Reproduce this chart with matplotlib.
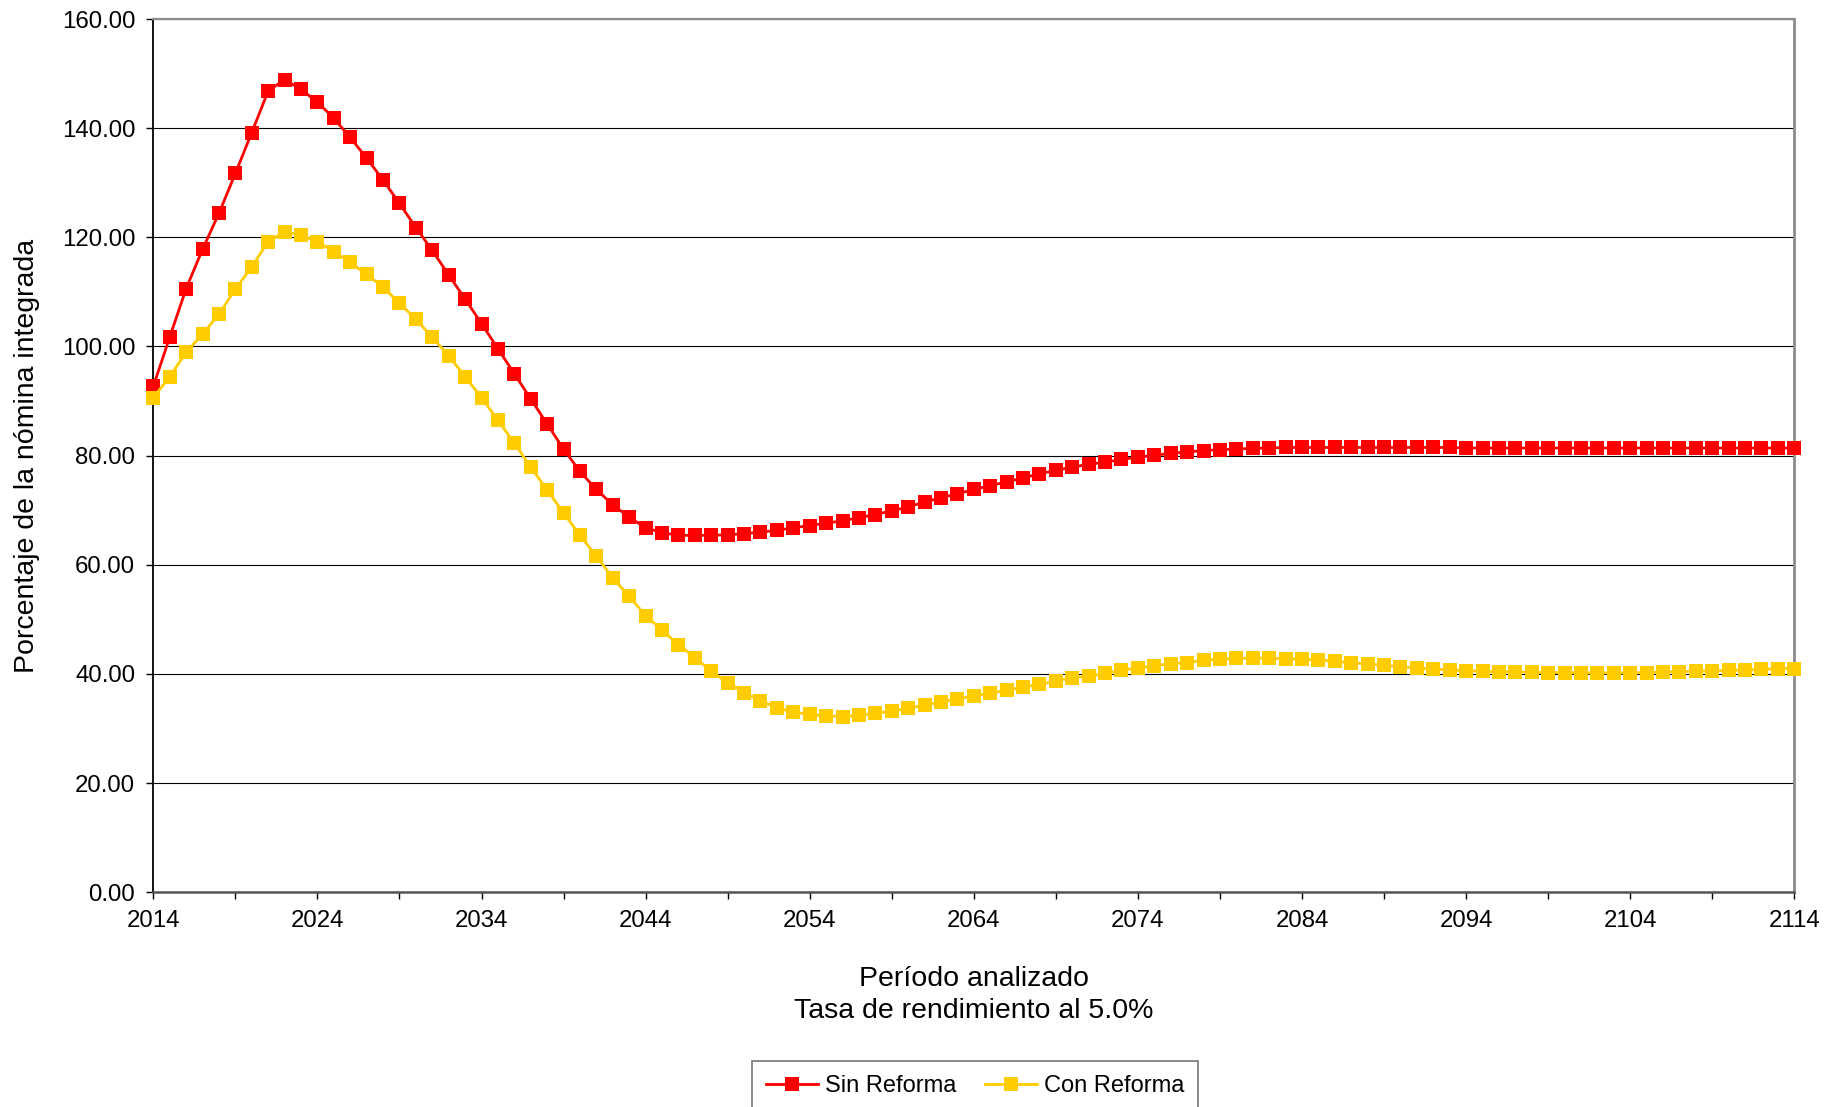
import matplotlib
matplotlib.use('Agg')
import matplotlib.pyplot as plt
from matplotlib.ticker import FormatStrFormatter, MultipleLocator

plt.rcParams['font.family'] = ['Liberation Sans', 'DejaVu Sans']

################################################################################
# data
################################################################################

years = list(range(2014, 2115))
year_ticks = list(range(2014, 2115, 10))
year_minor = list(range(2019, 2115, 10))

sin_reforma = [
    92.7, 101.7, 110.6, 117.8, 124.4, 131.7, 139.2, 146.8, 148.9, 147.1,   # 2014
    144.8, 141.8, 138.3, 134.5, 130.5, 126.2, 121.8, 117.6, 113.1, 108.7,  # 2024
    104.2, 99.6, 95.0, 90.4, 85.8, 81.2, 77.1, 73.8, 71.0, 68.7,           # 2034
    66.8, 65.9, 65.4, 65.4, 65.4, 65.5, 65.7, 66.0, 66.3, 66.8,            # 2044
    67.2, 67.6, 68.1, 68.6, 69.2, 69.9, 70.6, 71.5, 72.3, 73.0,            # 2054
    73.8, 74.5, 75.2, 75.9, 76.7, 77.3, 77.9, 78.4, 78.8, 79.3,            # 2064
    79.7, 80.1, 80.4, 80.7, 80.9, 81.1, 81.2, 81.35, 81.4, 81.5,           # 2074
    81.5, 81.5, 81.5, 81.5, 81.5, 81.5, 81.5, 81.5, 81.5, 81.5,            # 2084
    81.4, 81.4, 81.4, 81.4, 81.4, 81.4, 81.4, 81.4, 81.4, 81.4,            # 2094
    81.4, 81.4, 81.4, 81.4, 81.4, 81.4, 81.4, 81.4, 81.4, 81.4,            # 2104
    81.4,                                                                  # 2114
]

con_reforma = [
    90.6, 94.5, 98.9, 102.3, 105.9, 110.5, 114.6, 119.2, 121.0, 120.4,     # 2014
    119.2, 117.4, 115.4, 113.2, 110.9, 107.9, 105.0, 101.7, 98.3, 94.5,    # 2024
    90.6, 86.5, 82.3, 77.9, 73.7, 69.5, 65.4, 61.6, 57.6, 54.2,            # 2034
    50.7, 48.0, 45.4, 43.0, 40.5, 38.4, 36.6, 35.1, 33.8, 33.0,            # 2044
    32.6, 32.3, 32.2, 32.4, 32.8, 33.2, 33.7, 34.3, 34.9, 35.4,            # 2054
    36.0, 36.5, 37.0, 37.6, 38.1, 38.7, 39.3, 39.6, 40.1, 40.7,            # 2064
    41.1, 41.5, 41.9, 42.1, 42.5, 42.7, 42.9, 42.9, 42.9, 42.8,            # 2074
    42.7, 42.6, 42.3, 42.1, 41.8, 41.6, 41.3, 41.1, 40.9, 40.7,            # 2084
    40.6, 40.5, 40.4, 40.4, 40.3, 40.25, 40.25, 40.2, 40.2, 40.2,          # 2094
    40.2, 40.25, 40.4, 40.4, 40.5, 40.55, 40.7, 40.7, 40.85, 41.0,         # 2104
    41.0,                                                                  # 2114
]

series_names = ['Sin Reforma', 'Con Reforma']
series_colors = ['#FF0000', '#FFCC00']

xlabel_text = 'Período analizado\nTasa de rendimiento al 5.0%'
ylabel_text = 'Porcentaje de la nómina integrada'

################################################################################
# figure
################################################################################

fig = plt.figure(figsize=(18.43, 11.07), dpi=100)
ax = fig.add_axes([153.3 / 1843, 1 - 892.3 / 1107,
                   (1794.3 - 153.3) / 1843, (892.3 - 19) / 1107])

for values, name, color in zip([sin_reforma, con_reforma], series_names, series_colors):
    ax.plot(years, values, color=color, lw=2, marker='s', markersize=10,
            markeredgewidth=0, label=name, clip_on=False, zorder=3)

ax.set_xlim(2014, 2114)
ax.set_ylim(0, 160)
ax.set_xticks(year_ticks)
ax.set_xticks(year_minor, minor=True)
ax.yaxis.set_major_locator(MultipleLocator(20))
ax.yaxis.set_major_formatter(FormatStrFormatter('%.2f'))

ax.grid(axis='y', color='black', lw=0.8)
ax.set_axisbelow(True)

ax.tick_params(axis='both', which='both', direction='out', length=5, width=1,
               color='black', labelsize=17.3)
ax.tick_params(axis='x', pad=8)
ax.tick_params(axis='y', pad=8)

ax.spines['left'].set_color('black')
ax.spines['left'].set_linewidth(1.3)
ax.spines['bottom'].set_color('#555555')
ax.spines['bottom'].set_linewidth(1.8)
ax.spines['top'].set_color('#8c8c8c')
ax.spines['top'].set_linewidth(1.6)
ax.spines['right'].set_color('#8c8c8c')
ax.spines['right'].set_linewidth(2)

ax.set_xlabel(xlabel_text, fontsize=20.5, labelpad=24, linespacing=1.3)
ax.set_ylabel(ylabel_text, fontsize=20.5, labelpad=16)

leg = fig.legend(loc='upper center', bbox_to_anchor=(975 / 1843, 1 - 1060.7 / 1107),
                 borderaxespad=0, ncol=2, fontsize=17, frameon=True, fancybox=False,
                 edgecolor='#555555', numpoints=1, handlelength=2.2,
                 handletextpad=0.3, columnspacing=1.2, borderpad=0.6)
leg.get_frame().set_linewidth(1.2)

fig.savefig('out.png', dpi=100)
